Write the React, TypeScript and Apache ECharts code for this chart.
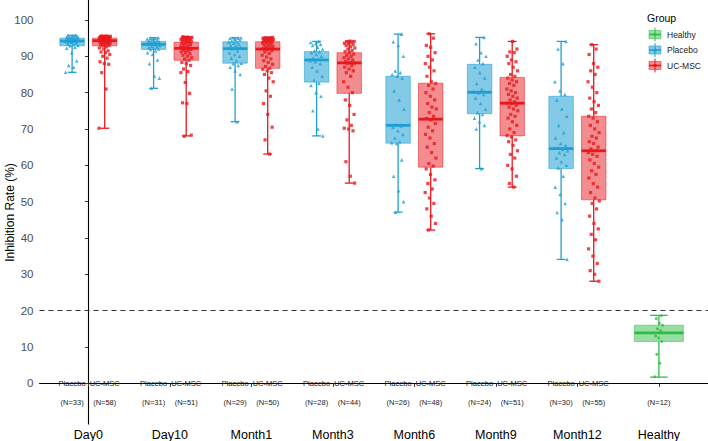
import React, { useEffect, useRef } from "react";
import * as echarts from "echarts";

const categories = ["Day0", "Day10", "Month1", "Month3", "Month6", "Month9", "Month12", "Healthy"];
const yTicks = [0, 10, 20, 30, 40, 50, 60, 70, 80, 90, 100];
const threshold = 20;

// [min, Q1, median, Q3, max]
const placeboStats = [
  [85.6, 92.9, 94.2, 95.0, 95.8],
  [81.2, 91.9, 93.3, 94.1, 95.1],
  [72.0, 88.1, 92.1, 94.0, 95.1],
  [68.1, 82.9, 89.0, 91.3, 94.1],
  [47.1, 66.1, 71.0, 84.5, 96.1],
  [59.1, 74.2, 80.1, 87.8, 95.2],
  [34.1, 59.1, 64.6, 79.0, 94.1],
];
const mscStats = [
  [70.2, 92.9, 94.3, 95.0, 95.6],
  [68.1, 88.9, 92.2, 93.9, 95.4],
  [63.1, 86.7, 92.0, 94.0, 95.2],
  [55.1, 79.8, 88.2, 91.0, 94.2],
  [42.2, 59.5, 72.7, 82.6, 96.2],
  [54.0, 68.1, 77.1, 84.2, 94.1],
  [28.1, 50.5, 64.0, 73.5, 93.2],
];
const healthyStats = [[1.7, 11.5, 13.9, 16.0, 18.7]];

const placeboN = [33, 31, 29, 28, 26, 24, 30];
const mscN = [58, 51, 50, 44, 48, 51, 55];
const healthyN = [12];

const placeboPoints = [
  [85.6, 87.0, 87.5, 88.7, 91.0, 92.2, 92.5, 92.9, 93.0, 93.3, 93.5, 93.7, 93.9, 94.0, 94.1, 94.2, 94.2, 94.3, 94.5, 94.6, 94.7, 94.8, 94.9, 95.0, 95.0, 95.1, 95.2, 95.3, 95.4, 95.5, 95.6, 95.7, 95.8],
  [81.2, 84.0, 84.5, 88.0, 89.0, 90.5, 91.0, 91.5, 91.9, 92.0, 92.2, 92.4, 92.6, 92.8, 93.0, 93.3, 93.4, 93.5, 93.6, 93.7, 93.8, 93.9, 94.0, 94.1, 94.3, 94.5, 94.7, 94.8, 94.9, 95.0, 95.1],
  [72.0, 81.0, 85.0, 86.0, 87.0, 87.5, 88.0, 88.1, 88.8, 89.5, 90.0, 90.5, 91.0, 91.5, 92.1, 92.4, 92.8, 93.0, 93.3, 93.6, 93.9, 94.0, 94.2, 94.5, 94.7, 94.9, 95.0, 95.1, 95.1],
  [68.1, 70.0, 75.0, 79.0, 80.0, 82.0, 82.6, 83.5, 84.5, 86.0, 87.0, 88.0, 88.5, 88.8, 89.2, 89.5, 90.0, 90.5, 91.0, 91.3, 91.5, 92.0, 92.5, 93.0, 93.3, 93.5, 93.8, 94.1],
  [47.1, 50.0, 53.0, 57.0, 61.5, 66.0, 66.2, 66.5, 67.5, 68.5, 69.5, 70.5, 70.8, 71.2, 75.5, 78.0, 80.5, 84.0, 84.5, 85.0, 85.5, 86.0, 90.0, 93.0, 94.0, 96.1],
  [59.1, 70.0, 71.0, 72.0, 73.0, 74.0, 74.5, 75.5, 77.0, 78.5, 79.5, 80.0, 80.2, 81.0, 82.5, 84.0, 85.5, 87.0, 88.0, 89.0, 90.0, 91.0, 93.5, 95.2],
  [34.1, 45.0, 47.0, 49.5, 52.0, 54.0, 57.0, 59.3, 60.0, 61.0, 62.0, 63.0, 63.5, 64.0, 64.4, 64.8, 65.5, 66.0, 67.5, 69.0, 71.0, 73.5, 75.5, 78.0, 79.5, 80.5, 83.0, 88.0, 92.0, 94.1],
];
const mscPoints = [
  [70.2, 81.0, 85.5, 87.8, 88.0, 88.5, 89.5, 90.0, 90.5, 91.0, 91.2, 91.5, 92.0, 92.3, 92.6, 92.9, 93.0, 93.1, 93.3, 93.4, 93.5, 93.6, 93.7, 93.8, 93.9, 94.0, 94.1, 94.2, 94.3, 94.3, 94.4, 94.4, 94.5, 94.5, 94.6, 94.6, 94.7, 94.7, 94.8, 94.8, 94.9, 94.9, 95.0, 95.0, 95.0, 95.1, 95.1, 95.2, 95.2, 95.3, 95.3, 95.4, 95.4, 95.5, 95.5, 95.5, 95.6, 95.6],
  [68.0, 68.3, 77.0, 77.2, 79.8, 82.8, 85.5, 85.8, 86.5, 87.5, 88.0, 88.3, 88.9, 89.2, 89.6, 90.0, 90.3, 90.7, 91.0, 91.2, 91.5, 91.7, 91.9, 92.0, 92.1, 92.2, 92.4, 92.6, 92.8, 93.0, 93.2, 93.4, 93.6, 93.8, 93.9, 94.0, 94.1, 94.3, 94.4, 94.5, 94.6, 94.7, 94.8, 94.9, 95.0, 95.0, 95.1, 95.2, 95.2, 95.3, 95.4],
  [63.1, 67.0, 70.5, 74.0, 77.0, 79.0, 80.5, 83.0, 84.0, 85.0, 85.5, 86.0, 86.4, 86.7, 87.2, 87.8, 88.3, 88.8, 89.3, 89.8, 90.3, 90.8, 91.2, 91.6, 91.9, 92.1, 92.3, 92.5, 92.7, 92.9, 93.1, 93.3, 93.5, 93.7, 93.9, 94.0, 94.1, 94.2, 94.3, 94.4, 94.5, 94.6, 94.7, 94.8, 94.9, 95.0, 95.0, 95.1, 95.1, 95.2],
  [55.1, 57.0, 61.0, 69.5, 70.0, 70.2, 71.0, 72.5, 74.0, 76.5, 78.0, 80.0, 81.5, 83.0, 84.5, 85.5, 86.0, 86.5, 87.0, 87.5, 88.0, 88.1, 88.3, 88.6, 89.0, 89.3, 89.6, 90.0, 90.3, 90.6, 91.0, 91.3, 91.6, 92.0, 92.3, 92.6, 93.0, 93.2, 93.4, 93.6, 93.8, 94.0, 94.1, 94.2],
  [42.2, 44.0, 46.0, 48.0, 49.5, 51.0, 52.5, 53.5, 55.0, 56.0, 57.5, 59.0, 59.8, 60.5, 62.0, 63.5, 65.0, 66.0, 67.5, 68.5, 69.5, 70.5, 71.5, 72.5, 72.9, 73.5, 74.5, 75.5, 76.0, 77.0, 78.0, 79.0, 80.0, 81.0, 82.0, 82.5, 83.0, 84.5, 86.0, 87.0, 88.0, 89.0, 90.0, 91.0, 92.5, 93.0, 95.0, 96.2],
  [54.0, 55.0, 57.0, 59.0, 60.0, 62.0, 63.0, 64.0, 65.5, 66.5, 67.0, 67.8, 68.2, 69.0, 70.0, 71.0, 72.0, 73.0, 73.5, 74.0, 75.0, 75.5, 76.0, 76.5, 77.0, 77.1, 77.5, 78.0, 78.5, 79.0, 79.5, 80.0, 80.5, 81.0, 82.0, 82.5, 83.0, 83.5, 84.0, 84.5, 85.0, 86.0, 87.0, 88.0, 88.5, 89.0, 90.0, 91.0, 91.2, 92.0, 94.1],
  [28.1, 30.0, 31.0, 33.0, 35.0, 37.0, 39.5, 41.0, 42.5, 44.0, 46.0, 48.0, 49.5, 50.2, 51.0, 52.5, 54.0, 55.0, 56.5, 57.5, 58.5, 59.5, 60.5, 61.5, 62.5, 63.0, 63.5, 64.0, 64.5, 65.0, 66.0, 66.5, 67.5, 68.0, 69.0, 70.0, 71.0, 72.0, 73.0, 73.5, 74.5, 75.5, 76.5, 77.5, 78.5, 80.0, 81.5, 83.0, 85.0, 86.0, 87.0, 88.0, 90.5, 92.0, 93.2],
];
const healthyPoints = [[1.8, 5.5, 8.0, 11.5, 12.5, 13.0, 14.5, 15.0, 16.0, 16.5, 17.8, 18.6]];

const BLUE = "#1E9FD4";
const BLUE_FILL = "rgba(30,159,212,0.55)";
const RED = "#E8191E";
const RED_FILL = "rgba(232,25,30,0.5)";
const GREEN = "#2DBE43";
const GREEN_FILL = "rgba(45,190,67,0.5)";

const FONT = "Liberation Sans, Arial, Helvetica, sans-serif";

function jitter(i: number, w: number) {
  return (((i * 0.6180339887) % 1) - 0.5) * 2 * w;
}

function boxSeries(name: string, stats: number[][], startIdx: number, offset: number, halfW: number, color: string, fill: string) {
  return {
    type: "custom",
    name,
    z: 2,
    data: stats.map((s, i) => [startIdx + i + offset, ...s]),
    encode: { x: 0, y: [1, 2, 3, 4, 5] },
    renderItem: (params: any, api: any) => {
      const x = api.value(0) as number;
      const py = (v: number) => api.coord([x, v])[1];
      const cx = api.coord([x, 0])[0];
      const left = api.coord([x - halfW, 0])[0];
      const right = api.coord([x + halfW, 0])[0];
      const yMin = py(api.value(1));
      const yQ1 = py(api.value(2));
      const yMed = py(api.value(3));
      const yQ3 = py(api.value(4));
      const yMax = py(api.value(5));
      const cap = (right - left) * 0.18;
      const ls = { stroke: color, lineWidth: 1.3 };
      return {
        type: "group",
        children: [
          { type: "line", shape: { x1: cx, y1: yMax, x2: cx, y2: yQ3 }, style: ls },
          { type: "line", shape: { x1: cx, y1: yQ1, x2: cx, y2: yMin }, style: ls },
          { type: "line", shape: { x1: cx - cap, y1: yMax, x2: cx + cap, y2: yMax }, style: ls },
          { type: "line", shape: { x1: cx - cap, y1: yMin, x2: cx + cap, y2: yMin }, style: ls },
          { type: "rect", shape: { x: left, y: yQ3, width: right - left, height: yQ1 - yQ3 }, style: { fill, stroke: fill, lineWidth: 1 } },
          { type: "line", shape: { x1: left, y1: yMed, x2: right, y2: yMed }, style: { stroke: color, lineWidth: 2.8 } },
        ],
      };
    },
  };
}

function pointSeries(name: string, pts: number[][], startIdx: number, offset: number, jw: number, color: string, symbol: string, size: number) {
  const data: number[][] = [];
  pts.forEach((arr, g) => {
    arr.forEach((v, i) => {
      data.push([startIdx + g + offset + jitter(i + g * 7, jw), v]);
    });
  });
  return {
    type: "scatter",
    name,
    z: 3,
    symbol,
    symbolSize: size,
    itemStyle: { color },
    data,
  };
}

function textSeries(labels: string[], xs: number[], y: number) {
  return {
    type: "custom",
    z: 4,
    data: xs.map((x) => [x, y]),
    encode: { x: 0, y: 1 },
    renderItem: (params: any, api: any) => {
      const p = api.coord([api.value(0), api.value(1)]);
      return {
        type: "text",
        x: p[0],
        y: p[1],
        style: {
          text: labels[params.dataIndex],
          fill: "#1a1a1a",
          fontSize: 7.5,
          fontFamily: FONT,
          align: "center",
          verticalAlign: "middle",
        },
      };
    },
  };
}

function legendItem(label: string, cy: number, color: string, fill: string, symbol: string) {
  const x0 = 649;
  const w = 12;
  const children: any[] = [
    { type: "line", shape: { x1: x0 + w / 2, y1: cy - 7, x2: x0 + w / 2, y2: cy + 7 }, style: { stroke: color, lineWidth: 1 } },
    { type: "rect", shape: { x: x0, y: cy - 4, width: w, height: 8 }, style: { fill, stroke: fill, lineWidth: 1 } },
    { type: "line", shape: { x1: x0, y1: cy, x2: x0 + w, y2: cy }, style: { stroke: color, lineWidth: 1.6 } },
  ];
  if (symbol === "triangle") {
    children.push({ type: "polygon", shape: { points: [[x0 + w / 2, cy - 2], [x0 + w / 2 - 2, cy + 1.5], [x0 + w / 2 + 2, cy + 1.5]] }, style: { fill: color } });
  } else if (symbol === "rect") {
    children.push({ type: "rect", shape: { x: x0 + w / 2 - 1.5, y: cy - 1.5, width: 3, height: 3 }, style: { fill: color } });
  } else {
    children.push({ type: "circle", shape: { cx: x0 + w / 2, cy, r: 1.5 }, style: { fill: color } });
  }
  children.push({
    type: "text",
    x: 667,
    y: cy,
    style: { text: label, fill: "#1a1a1a", fontSize: 8.5, fontFamily: FONT, verticalAlign: "middle", align: "left" },
  });
  return { type: "group", children };
}

export default function App() {
  const ref = useRef<HTMLDivElement>(null);
  useEffect(() => {
    if (!ref.current) return;
    const chart = echarts.init(ref.current, undefined, { renderer: "svg" });
    const pIdx = placeboStats.map((_, i) => i - 0.2);
    const mIdx = mscStats.map((_, i) => i + 0.2);
    const hIdx = healthyStats.map((_, i) => 7 + i);

    const option: any = {
      animation: false,
      backgroundColor: "#ffffff",
      grid: { left: 39.5, right: 0.2, top: 0, bottom: 17, containLabel: false, outerBoundsMode: "none" },
      xAxis: {
        type: "value",
        min: -0.6,
        max: 7.6,
        axisLine: { show: true, lineStyle: { color: "#000", width: 1.1 } },
        axisTick: { show: true, customValues: categories.map((_, i) => i), length: 3.5, lineStyle: { color: "#333" } },
        axisLabel: {
          customValues: categories.map((_, i) => i),
          formatter: (v: number) => categories[Math.round(v)] ?? "",
          fontSize: 12.5,
          color: "#000",
          fontFamily: FONT,
          margin: 4,
        },
        splitLine: { show: false },
      },
      yAxis: {
        type: "value",
        min: -11.2,
        max: 105.5,
        axisLine: { show: true, lineStyle: { color: "#000", width: 1.1 } },
        axisTick: { show: true, customValues: yTicks, length: 3.5, lineStyle: { color: "#333" } },
        axisLabel: { customValues: yTicks, fontSize: 11.5, color: "#4d4d4d", fontFamily: FONT, margin: 6 },
        splitLine: { show: false },
      },
      series: [
        boxSeries("Placebo", placeboStats, 0, -0.2, 0.15, BLUE, BLUE_FILL),
        boxSeries("UC-MSC", mscStats, 0, 0.2, 0.15, RED, RED_FILL),
        boxSeries("Healthy", healthyStats, 7, 0, 0.3, GREEN, GREEN_FILL),
        pointSeries("Placebo pts", placeboPoints, 0, -0.2, 0.08, BLUE, "triangle", 3.6),
        pointSeries("UC-MSC pts", mscPoints, 0, 0.2, 0.07, RED, "rect", 3.2),
        {
          ...pointSeries("Healthy pts", healthyPoints, 7, 0, 0.05, GREEN, "circle", 3),
          markLine: {
            silent: true,
            symbol: "none",
            label: { show: false },
            lineStyle: { type: [5, 4], color: "#333", width: 1 },
            data: [{ yAxis: threshold }],
          },
        },
        textSeries(placeboStats.map(() => "Placebo"), pIdx, 0),
        textSeries(mscStats.map(() => "UC-MSC"), mIdx, 0),
        textSeries(placeboN.map((n) => `(N=${n})`), pIdx, -5.2),
        textSeries(mscN.map((n) => `(N=${n})`), mIdx, -5.2),
        textSeries(healthyN.map((n) => `(N=${n})`), hIdx, -5.2),
      ],
      graphic: [
        {
          type: "text",
          x: 10,
          y: 212.5,
          rotation: Math.PI / 2,
          style: { text: "Inhibition Rate (%)", fontSize: 12, fill: "#000", fontFamily: FONT, align: "center", verticalAlign: "middle" },
        },
        {
          type: "text",
          x: 647,
          y: 18,
          style: { text: "Group", fontSize: 10.5, fill: "#000", fontFamily: FONT, align: "left", verticalAlign: "middle" },
        },
        legendItem("Healthy", 34.5, GREEN, GREEN_FILL, "circle"),
        legendItem("Placebo", 50, BLUE, BLUE_FILL, "triangle"),
        legendItem("UC-MSC", 65.5, RED, RED_FILL, "rect"),
      ],
    };
    chart.setOption(option);
    return () => chart.dispose();
  }, []);
  return (
    <div
      ref={ref}
      style={{ position: "fixed", left: 0, top: 0, width: 708, height: 441, background: "#fff" }}
    />
  );
}
